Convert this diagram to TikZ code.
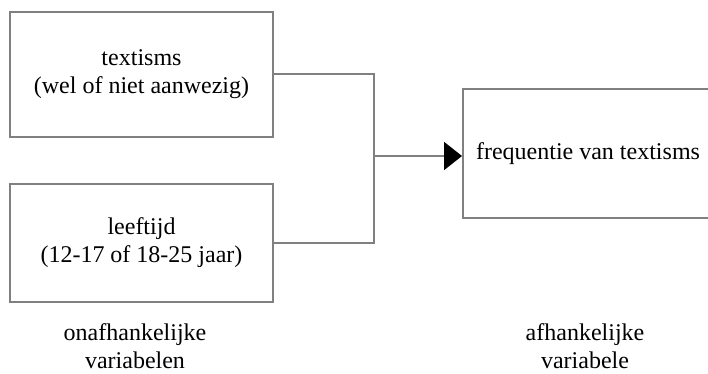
\documentclass[tikz,border=0pt]{standalone}
\usepackage{fontspec}
\setmainfont{Liberation Serif}
\usetikzlibrary{arrows.meta}

\definecolor{linegray}{RGB}{128,128,128}

\begin{document}
\begin{tikzpicture}[x=1pt, y=-1pt,
  every node/.style={font=\fontsize{24}{28}\selectfont, align=center},
  varbox/.style={draw=linegray, line width=2pt, minimum width=263pt, inner sep=0pt},
  wire/.style={draw=linegray, line width=2pt},
  arrowtip/.style={-{Triangle[length=18pt, width=28pt, black]}}]
\useasboundingbox (0,0) rectangle (708,374);

\node[varbox, minimum height=125pt] (texts) at (141.5,74.5) {textisms\\(wel of niet aanwezig)};
\node[varbox, minimum height=118pt] (age) at (141.5,243) {leeftijd\\(12-17 of 18-25 jaar)};
\node[varbox, minimum width=250pt, minimum height=129pt] (freq) at (588,153.5) {frequentie van textisms};

\coordinate (join) at (374,156);
\draw[wire] (texts.east) -| (join);
\draw[wire] (age.east) -| (join);
\draw[wire, arrowtip] (join) -- (join -| freq.west);

\node (onafh) at (135,346) {onafhankelijke\\variabelen};
\node (afh) at (585,346) {afhankelijke\\variabele};
\end{tikzpicture}
\end{document}
